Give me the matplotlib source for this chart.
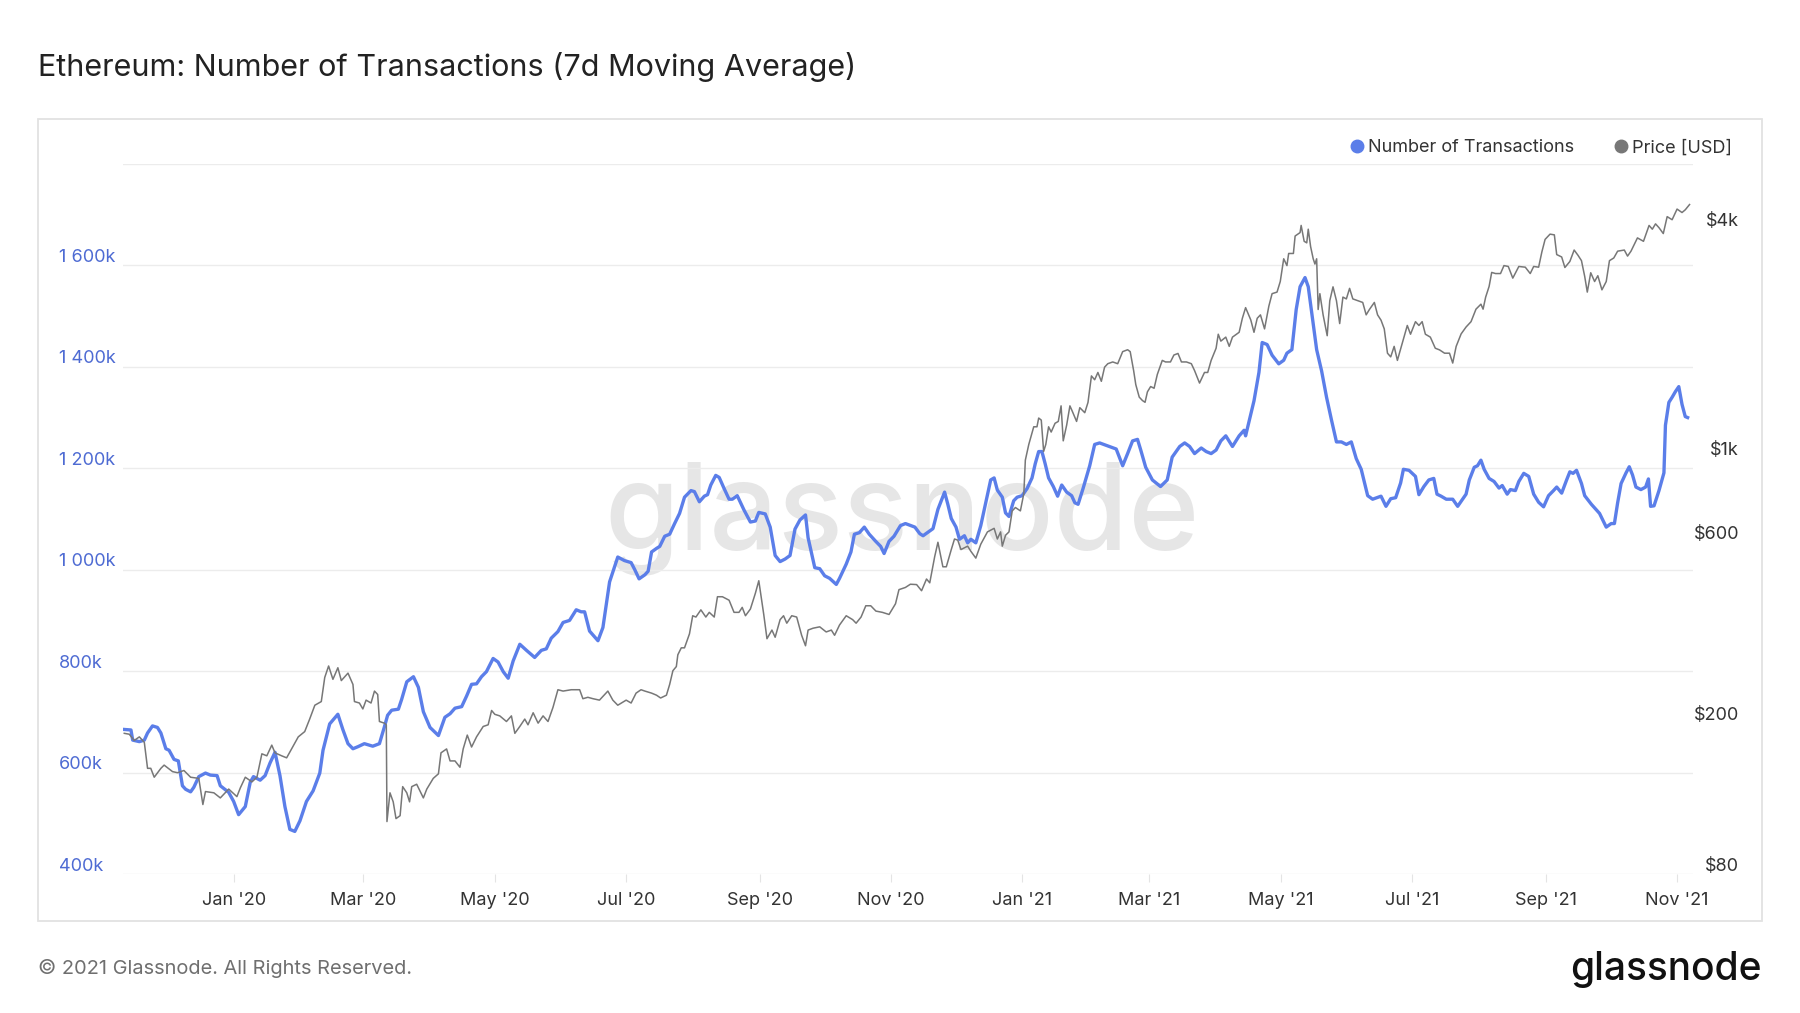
import pandas as pd
import matplotlib
matplotlib.use("Agg")
import matplotlib.pyplot as plt
import matplotlib.dates as mdates
from matplotlib.lines import Line2D
from matplotlib.patches import Rectangle
from matplotlib.transforms import offset_copy

plt.rcParams["font.family"] = ["Inter", "DejaVu Sans"]

BASE = pd.Timestamp("2020-01-01")

# 7d MA number of transactions (thousands), x = days since 2020-01-01
tx_days = [
    -51.1, -48.0, -47.2, -44.1, -41.8, -40.3, -38.0, -35.7, -34.1, -31.8, -30.3, -28.0,
    -26.0, -24.1, -22.6, -20.3, -18.8, -16.5, -13.4, -11.1, -8.0, -6.5, -2.6, -0.3,
    2.0, 5.1, 7.4, 8.9, 12.0, 14.3, 16.6, 18.9, 21.2, 23.5, 25.8, 28.1, 30.5, 33.5,
    36.6, 39.7, 41.2, 44.3, 48.1, 50.4, 52.8, 55.1, 57.4, 60.4, 64.3, 67.4, 69.7, 71.2,
    73.1, 76.2, 77.7, 80.1, 83.2, 85.5, 87.8, 90.9, 94.8, 97.8, 100.2, 102.5, 105.6,
    107.9, 110.2, 112.5, 114.8, 117.1, 120.2, 122.5, 124.9, 127.2, 129.5, 132.6, 135.7,
    139.5, 142.6, 144.9, 147.2, 150.3, 152.7, 155.7, 158.8, 161.1, 162.7, 165.0, 168.9,
    171.2, 174.3, 178.1, 181.2, 184.3, 186.0, 188.0, 190.7, 192.2, 193.8, 196.1, 197.6,
    199.9, 202.2, 204.5, 206.8, 209.1, 212.1, 213.7, 216.0, 218.3, 219.8, 221.3, 223.6,
    225.2, 227.5, 229.8, 231.3, 233.6, 236.7, 239.7, 242.0, 243.6, 246.6, 248.9, 251.2,
    253.5, 255.8, 258.1, 260.4, 262.7, 265.3, 266.5, 269.6, 271.9, 274.2, 276.5, 279.6,
    281.1, 284.2, 286.4, 288.0, 290.3, 292.6, 294.9, 297.9, 300.2, 301.8, 304.1, 306.4,
    309.4, 311.7, 316.1, 318.4, 319.9, 322.2, 324.5, 326.8, 329.9, 331.4, 333.0, 335.2,
    336.8, 339.1, 340.6, 342.1, 344.4, 346.7, 349.0, 351.3, 352.9, 354.4, 356.7, 358.2,
    359.8, 362.0, 363.6, 365.9, 368.2, 370.5, 372.0, 373.6, 375.1, 376.6, 378.2, 380.4,
    382.4, 384.3, 386.6, 388.9, 390.4, 391.9, 394.2, 397.3, 399.6, 401.9, 405.7, 409.6,
    412.6, 414.9, 417.2, 419.5, 421.0, 423.3, 426.4, 430.2, 433.3, 435.6, 439.1, 441.4,
    443.7, 446.0, 449.1, 451.4, 453.7, 456.0, 458.2, 460.5, 463.6, 466.7, 469.0, 469.7,
    471.3, 473.6, 475.9, 477.4, 479.7, 482.0, 485.1, 487.4, 488.9, 491.2, 493.2, 495.0,
    497.3, 498.8, 502.7, 505.0, 507.3, 509.6, 511.9, 514.2, 516.5, 518.8, 521.1, 523.4,
    526.4, 528.7, 532.6, 534.9, 537.1, 539.4, 541.7, 543.0, 545.6, 548.6, 550.2, 552.5,
    554.8, 557.1, 558.6, 560.5, 562.9, 565.9, 568.2, 570.5, 572.1, 573.6, 575.9, 577.4,
    579.0, 580.5, 582.8, 585.1, 587.4, 588.9, 591.2, 592.7, 595.0, 596.6, 598.9, 601.2,
    603.5, 605.8, 608.1, 610.4, 612.7, 614.2, 616.5, 618.8, 620.3, 621.8, 623.4, 625.7,
    627.2, 630.3, 634.1, 637.2, 639.5, 641.0, 642.5, 644.1, 646.4, 647.9, 649.4, 651.0,
    653.3, 655.5, 656.8, 657.8, 659.4, 661.7, 664.0, 664.7, 666.3, 667.8, 669.3, 670.9,
    672.4, 673.9, 675.0,
]
tx_values = [
    685, 684, 664, 661, 664, 678, 692, 689, 678, 647, 644, 626,
    623, 574, 567, 562, 571, 592, 599, 595, 594, 574, 561, 543,
    517, 533, 581, 592, 585, 594, 619, 640, 594, 533, 488, 484, 505, 543,
    564, 599, 644, 696, 715, 685, 657, 647, 651, 657, 652, 657, 690, 713,
    723, 725, 744, 779, 789, 768, 720, 689, 673, 709, 716, 727, 730,
    751, 774, 775, 789, 799, 825, 818, 799, 786, 820, 853, 841,
    827, 841, 844, 865, 878, 896, 900, 921, 917, 917, 879, 860,
    886, 976, 1025, 1018, 1014, 1000, 982, 990, 997, 1035, 1042, 1046,
    1066, 1070, 1091, 1111, 1143, 1156, 1154, 1134, 1145, 1148, 1167, 1186,
    1182, 1160, 1139, 1139, 1146, 1118, 1094, 1096, 1113, 1110, 1084, 1028,
    1016, 1021, 1028, 1080, 1098, 1108, 1063, 1004, 1002, 988, 983, 971,
    983, 1011, 1035, 1070, 1073, 1084, 1070, 1056, 1046, 1032, 1056, 1066,
    1087, 1091, 1084, 1071, 1067, 1074, 1081, 1119, 1153, 1129, 1101, 1084,
    1060, 1067, 1053, 1060, 1053, 1087, 1132, 1177, 1181, 1157, 1143, 1112,
    1105, 1136, 1143, 1146, 1160, 1181, 1209, 1233, 1233, 1209, 1181, 1164,
    1145, 1167, 1153, 1146, 1132, 1129, 1160, 1205, 1247, 1250, 1244, 1238,
    1205, 1229, 1254, 1257, 1236, 1202, 1177, 1164, 1177, 1222, 1243, 1250,
    1243, 1229, 1240, 1233, 1229, 1236, 1254, 1264, 1243, 1264, 1275, 1264,
    1292, 1333, 1389, 1448, 1444, 1423, 1406, 1413, 1427, 1434, 1513, 1558,
    1576, 1558, 1434, 1392, 1340, 1295, 1252, 1252, 1247, 1252, 1219, 1198,
    1146, 1139, 1145, 1125, 1140, 1142, 1171, 1198, 1196, 1184, 1148, 1164,
    1177, 1180, 1149, 1145, 1139, 1139, 1125, 1139, 1149, 1177, 1202, 1205,
    1216, 1198, 1180, 1174, 1161, 1166, 1149, 1158, 1156, 1174, 1190, 1184,
    1149, 1133, 1124, 1146, 1156, 1163, 1151, 1177, 1193, 1190, 1196, 1170,
    1146, 1129, 1111, 1084, 1091, 1091, 1132, 1170, 1191, 1203, 1187, 1163,
    1158, 1163, 1179, 1125, 1126, 1156, 1191, 1285, 1330, 1340, 1351, 1361,
    1326, 1302, 1300,
]

# ETH price (USD), x = days since 2020-01-01
price_days = [
    -51.1, -48.8, -46.5, -44.1, -41.8, -40.3, -38.8, -37.2, -34.1, -32.6, -28.7, -26.4,
    -23.4, -20.3, -16.5, -14.6, -13.4, -9.5, -6.5, -2.6, 1.2, 2.8, 5.1, 8.2, 10.5,
    12.8, 15.1, 17.4, 18.9, 22.0, 24.3, 26.6, 29.7, 32.7, 35.0, 37.4, 40.4, 42.0, 43.8,
    45.8, 48.1, 49.7, 52.8, 55.1, 55.8, 58.1, 59.7, 61.2, 63.5, 65.1, 66.6, 67.4, 69.7,
    70.6, 70.9, 72.3, 73.8, 75.1, 77.0, 78.2, 80.1, 81.4, 82.4, 84.7, 87.8, 89.4, 92.4,
    94.8, 96.0, 98.6, 100.2, 102.5, 104.8, 106.3, 108.2, 110.2, 112.5, 115.6, 117.9,
    119.5, 121.0, 123.3, 126.4, 128.7, 130.3, 132.6, 134.9, 136.4, 138.8, 141.1, 143.4,
    145.7, 148.0, 150.3, 152.7, 156.5, 160.4, 161.9, 164.2, 166.6, 169.6, 173.5, 175.8,
    178.1, 182.0, 184.3, 186.6, 188.9, 190.7, 193.8, 196.1, 198.0, 200.7, 202.2, 203.7,
    205.3, 206.0, 207.6, 209.1, 211.4, 212.9, 214.4, 216.7, 219.0, 220.6, 222.9, 224.4,
    226.7, 229.8, 232.1, 234.4, 235.9, 237.4, 239.7, 242.0, 243.6, 244.6, 245.9, 247.4,
    249.7, 251.2, 253.5, 255.1, 256.6, 258.9, 261.2, 263.5, 265.3, 266.5, 268.8, 271.9,
    274.9, 277.3, 278.8, 281.1, 284.2, 287.2, 288.8, 291.1, 293.3, 295.6, 298.0, 301.0,
    304.1, 307.1, 308.7, 311.7, 314.0, 316.9, 319.2, 321.5, 323.0, 325.3, 326.8, 329.1,
    330.7, 333.0, 334.5, 336.0, 337.5, 340.6, 342.1, 344.4, 346.7, 349.8, 352.9, 354.4,
    355.9, 356.7, 358.2, 359.8, 361.3, 362.8, 365.1, 366.7, 367.4, 369.0, 371.3, 372.8,
    373.6, 374.8, 375.9, 376.9, 378.2, 379.4, 381.2, 382.7, 384.0, 385.0, 386.6, 388.1,
    389.2, 391.2, 392.7, 395.0, 396.5, 398.1, 399.6, 401.1, 402.7, 404.2, 405.7, 408.0,
    410.3, 412.6, 414.9, 416.1, 417.7, 418.7, 420.3, 421.8, 423.0, 424.1, 425.6, 427.2,
    428.7, 431.0, 432.5, 434.8, 436.4, 438.3, 439.9, 442.2, 444.5, 446.0, 448.3, 450.6,
    452.1, 453.7, 456.0, 457.0, 458.2, 460.5, 462.1, 463.6, 466.7, 468.2, 469.7, 472.1,
    473.6, 475.1, 476.6, 478.5, 480.5, 482.0, 484.3, 485.8, 487.4, 488.9, 489.7, 491.9,
    492.7, 495.0, 495.5, 496.9, 498.1, 498.8, 499.9, 501.1, 501.9, 502.7, 503.4, 504.2,
    505.7, 507.6, 508.8, 510.3, 511.9, 513.4, 514.9, 516.5, 518.0, 519.5, 521.8, 524.1,
    525.7, 527.2, 529.5, 531.0, 532.6, 534.1, 535.6, 537.1, 538.7, 540.2, 542.5, 544.8,
    546.3, 548.6, 550.2, 551.7, 553.2, 555.5, 557.8, 559.8, 562.1, 564.4, 565.9, 567.5,
    569.8, 572.1, 574.4, 576.7, 579.0, 580.0, 581.2, 582.8, 584.0, 585.8, 588.1, 589.7,
    591.7, 593.8, 596.6, 599.6, 601.9, 603.5, 605.8, 607.3, 608.8, 611.1, 613.1, 614.2,
    616.5, 618.0, 620.3, 622.3, 624.1, 625.7, 627.2, 628.4, 630.0, 631.8, 633.3, 635.2,
    637.2, 638.7, 640.7, 642.5, 645.6, 647.1, 648.7, 651.7, 654.5, 657.1, 658.6, 660.1,
    661.7, 663.7, 665.5, 667.8, 670.1, 672.4, 673.9, 675.9,
]
price_usd = [
    188, 187, 180, 184, 178, 152, 152, 144, 152, 155, 149, 148,
    150, 144, 143, 122, 132, 131, 127, 134, 128, 135, 144, 140, 144,
    166, 164, 175, 167, 164, 162, 171, 184, 190, 205, 223, 228, 264, 283,
    261, 280, 259, 271, 253, 228, 226, 218, 230, 226, 243, 238, 202, 200,
    198, 110, 131, 124, 112, 114, 136, 131, 124, 136, 138, 127, 134, 143,
    147, 167, 171, 159, 159, 153, 171, 186, 173, 184, 196, 198,
    216, 211, 209, 202, 209, 188, 196, 205, 198, 213, 200, 209,
    202, 220, 245, 243, 245, 245, 232, 234, 232, 230, 243, 230,
    223, 230, 226, 240, 245, 243, 240, 237, 233, 237, 253, 275,
    282, 303, 316, 316, 344, 384, 381, 398, 381, 392, 381, 431,
    431, 422, 392, 392, 404, 384, 400, 440, 475, 435, 387, 334,
    352, 337, 375, 384, 367, 384, 381, 341, 320, 352, 356, 359,
    348, 352, 341, 363, 384, 375, 367, 381, 408, 408, 395, 392,
    387, 413, 450, 456, 465, 464, 447, 480, 469, 550, 600, 517,
    517, 574, 612, 608, 574, 586, 568, 545, 593, 639, 653, 612,
    639, 586, 626, 639, 726, 741, 726, 807, 988, 1087, 1210, 1210,
    1276, 1260, 1042, 1087, 1210, 1172, 1236, 1250, 1374, 1111, 1223, 1374,
    1330, 1250, 1359, 1318, 1403, 1648, 1610, 1683, 1595, 1738, 1775, 1794,
    1775, 1910, 1932, 1910, 1702, 1563, 1449, 1419, 1404, 1496, 1545, 1529,
    1663, 1811, 1794, 1794, 1871, 1889, 1794, 1794, 1775, 1702, 1578, 1683,
    1683, 1811, 1950, 2123, 2036, 2086, 1972, 2086, 2148, 2339, 2495, 2316,
    2148, 2339, 2388, 2193, 2518, 2716, 2742, 2924, 3357, 3221, 3467, 3467,
    3855, 3936, 4111, 3733, 3698, 4018, 3614, 3357, 3251, 3357, 2467, 2716,
    2388, 2104, 2602, 2831, 2602, 2265, 2660, 2631, 2805, 2631, 2602, 2575,
    2388, 2467, 2575, 2388, 2312, 2193, 1892, 1850, 1972, 1811, 2014, 2239,
    2123, 2291, 2239, 2291, 2123, 2086, 1950, 1930, 1892, 1892, 1782, 1972,
    2127, 2218, 2291, 2472, 2548, 2472, 2660, 2838, 3090, 3069, 3069, 3221,
    3204, 2985, 3204, 3190, 3069, 3204, 3190, 3499, 3776, 3899, 3882, 3444,
    3394, 3184, 3302, 3540, 3428, 3319, 3016, 2742, 3084, 2924, 3029, 2780,
    2924, 3319, 3373, 3516, 3540, 3412, 3516, 3811, 3733, 4111, 4018, 4150,
    4055, 3913, 4336, 4256, 4540, 4446, 4520, 4667,
]

tx_ticks = [400, 600, 800, 1000, 1200, 1400, 1600]
tx_tick_labels = ["400k", "600k", "800k", "1 000k", "1 200k", "1 400k", "1 600k"]
grid_levels = [400, 600, 800, 1000, 1200, 1400, 1600, 1800]
price_ticks = [80, 200, 600, 1000, 4000]
price_tick_labels = ["$80", "$200", "$600", "$1k", "$4k"]
month_ticks = ["2020-01-01", "2020-03-01", "2020-05-01", "2020-07-01", "2020-09-01",
               "2020-11-01", "2021-01-01", "2021-03-01", "2021-05-01", "2021-07-01",
               "2021-09-01", "2021-11-01"]

BLUE = "#5b7ee9"
GRAY = "#777777"

tx_dates = BASE + pd.to_timedelta(tx_days, unit="D")
price_dates = BASE + pd.to_timedelta(price_days, unit="D")

W, H = 1800, 1013
fig = plt.figure(figsize=(W / 100, H / 100), dpi=100)
fig.patch.set_facecolor("white")

# outer frame
fig.add_artist(Rectangle((38 / W, 1 - 921 / H), (1762 - 38) / W, (921 - 119) / H,
                         transform=fig.transFigure, fill=False,
                         edgecolor="#e2e2e2", linewidth=1.3))

left, right, top, bottom = 123, 1693, 164, 874
ax = fig.add_axes([left / W, 1 - bottom / H, (right - left) / W, (bottom - top) / H])
ax.set_facecolor("none")

ax.text(0.496, 0.5, "glassnode", transform=ax.transAxes, ha="center", va="center",
        fontsize=87, color="#e6e6e6", zorder=0, fontweight="medium")

ax.plot(tx_dates, tx_values, color=BLUE, linewidth=2.4, zorder=3,
        solid_joinstyle="round")
ax.set_ylim(400, 1800)
ax.set_yticks(grid_levels)
ax.grid(axis="y", color="#ececec", linewidth=1.0)
for s in ax.spines.values():
    s.set_visible(False)

ax.set_xlim(BASE + pd.Timedelta(days=-51.7), BASE + pd.Timedelta(days=677.5))
ax.set_xticks(pd.to_datetime(month_ticks))
ax.xaxis.set_major_formatter(mdates.DateFormatter("%b '%y"))
ax.tick_params(axis="x", length=6, color="#e4e4e4", labelsize=13,
               labelcolor="#333333", pad=7)

lab_tf = offset_copy(ax.get_yaxis_transform(), fig=fig, x=0, y=8, units="dots")
for v, lab in zip(tx_ticks, tx_tick_labels):
    ax.text(-0.041, v, lab, transform=lab_tf, ha="left", va="center",
            fontsize=13, color="#4e6bd3")

ax2 = ax.twinx()
ax2.plot(price_dates, price_usd, color=GRAY, linewidth=1.1, zorder=4)
ax2.set_yscale("log")
ax2.set_ylim(80, 5970)
ax2.tick_params(axis="y", which="both", left=False, right=False,
                labelleft=False, labelright=False)
for s in ax2.spines.values():
    s.set_visible(False)
# twinx puts the left ticks back on the main axis, so switch them off here
ax.tick_params(axis="y", which="both", left=False, right=False,
               labelleft=False, labelright=False)

lab_tf2 = offset_copy(ax2.get_yaxis_transform(), fig=fig, x=0, y=8, units="dots")
for v, lab in zip(price_ticks, price_tick_labels):
    ax2.text(1.0293, v, lab, transform=lab_tf2, ha="right", va="center",
             fontsize=13, color="#333333")

handles = [Line2D([], [], linestyle="none", marker="o", markersize=9, color=BLUE),
           Line2D([], [], linestyle="none", marker="o", markersize=9, color=GRAY)]
fig.legend(handles, ["Number of Transactions", "Price [USD]"], ncol=2,
           loc="center right", bbox_to_anchor=(1739 / W, 1 - 148 / H),
           frameon=False, fontsize=13, handlelength=0.6, handletextpad=0.3,
           columnspacing=2.3, labelcolor="#333333", borderaxespad=0)

fig.text(38 / W, 1 - 67 / H, "Ethereum: Number of Transactions (7d Moving Average)",
         ha="left", va="center", fontsize=22, color="#222222")
fig.text(38 / W, 1 - 968 / H, "\u00a9 2021 Glassnode. All Rights Reserved.",
         ha="left", va="center", fontsize=14.4, color="#6f6f6f")
fig.text(1762 / W, 1 - 969 / H, "glassnode", ha="right", va="center",
         fontsize=28, color="#111111", fontweight="medium")

fig.savefig("out.png", dpi=100)
